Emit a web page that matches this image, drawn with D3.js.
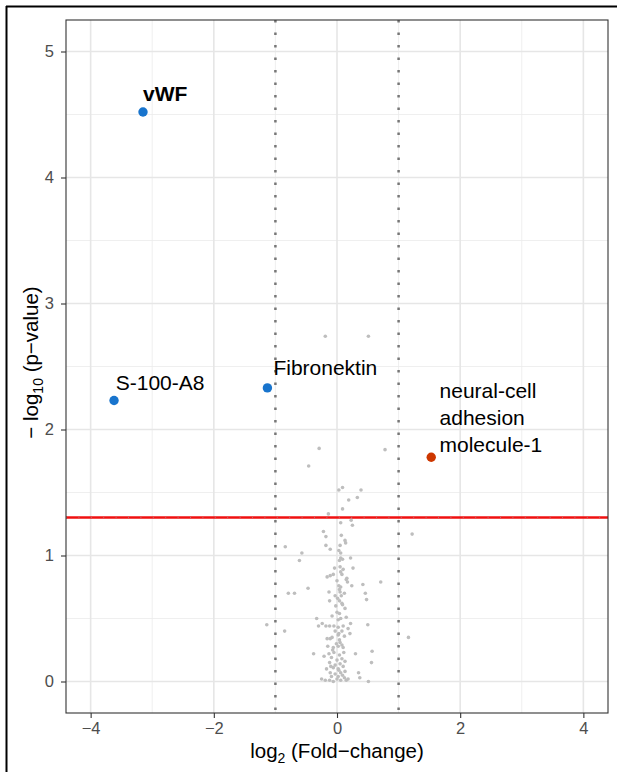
<!DOCTYPE html>
<html>
<head>
<meta charset="utf-8">
<script src="https://cdn.jsdelivr.net/npm/d3@7"></script>
<style>
  body { margin: 0; background: #fff; }
  svg { display: block; font-family: "Liberation Sans", Arial, sans-serif; }
</style>
</head>
<body>
<script>
// labelled proteins
const hitNames = [["vWF"], ["S-100-A8"], ["Fibronektin"], ["neural-cell", "adhesion", "molecule-1"]];
const hitX = [-3.15, -3.62, -1.13, 1.53];
const hitY = [4.52, 2.23, 2.33, 1.78];
const hitUp = [false, false, false, true];
const hitBold = [true, false, false, false];

// everything else (not significant)
const bgX = [-0.19, 0.51, -0.29, -0.46, 0.78, 0.03, 0.09, 0.39, 0.19, 0.33, 0.09, -0.14,
  0.06, 0.23, 0.25, -0.22, -0.18, 0.07, 0.13, 0.14, 1.22, -0.84, -0.18, -0.11, 0.03, -0.57,
  0.06, -0.61, 0.06, 0.09, 0.22, 0.04, 0.05, 0.10, 0.26, 0.06, 0.08, -0.16, -0.11, -0.06,
  0.16, 0.15, 0.17, 0.24, 0.42, 0.71, -0.47, -0.69, -0.79, 0.03, 0.06, 0.04, -0.13, 0.05,
  0.46, -0.03, 0.01, 0.07, 0.48, -0.12, 0.04, 0.09, 0.13, 0.04, -0.08, -0.33, 0.15, 0.02,
  0.06, 0.22, -0.24, -0.30, -0.18, -0.12, -0.05, 0.02, 0.10, 0.50, 0.18, -0.85, -0.03, 0.08,
  0.21, 0.03, -1.14, 0.02, 0.12, -0.11, -0.16, -0.08, 0.05, -0.01, 0.08, 1.16, -0.15, -0.06,
  0.02, 0.10, 0.57, -0.38, -0.21, -0.13, -0.05, 0.04, 0.11, 0.30, -0.09, 0.00, 0.08, 0.13,
  0.56, -0.12, -0.03, 0.05, -0.06, 0.02, 0.10, -0.17, 0.35, -0.11, -0.03, 0.06, 0.13, 0.37,
  -0.25, -0.19, -0.12, -0.06, 0.00, 0.06, 0.15, 0.18, 0.51, -0.09, 0.02, 0.09, 0.00, -0.02,
  0.08, 0.00, 0.12, -0.04, 0.05, -0.07, 0.04, -0.10, 0.12, 0.03];
const bgY = [2.74, 2.74, 1.85, 1.71, 1.84, 1.52, 1.54, 1.52, 1.44, 1.46, 1.37, 1.33,
  1.26, 1.28, 1.24, 1.19, 1.15, 1.16, 1.12, 1.10, 1.17, 1.07, 1.08, 1.05, 1.04, 1.02,
  1.02, 0.96, 0.98, 0.97, 0.98, 0.96, 0.91, 0.89, 0.90, 0.87, 0.85, 0.83, 0.84, 0.85,
  0.82, 0.81, 0.79, 0.76, 0.77, 0.79, 0.74, 0.70, 0.70, 0.76, 0.75, 0.73, 0.71, 0.71,
  0.70, 0.68, 0.66, 0.68, 0.65, 0.64, 0.64, 0.61, 0.58, 0.54, 0.52, 0.50, 0.51, 0.49,
  0.50, 0.46, 0.46, 0.44, 0.44, 0.44, 0.44, 0.43, 0.44, 0.45, 0.42, 0.40, 0.40, 0.40,
  0.38, 0.38, 0.45, 0.37, 0.36, 0.34, 0.34, 0.35, 0.31, 0.30, 0.29, 0.35, 0.28, 0.27,
  0.28, 0.27, 0.24, 0.22, 0.20, 0.22, 0.23, 0.21, 0.23, 0.22, 0.19, 0.17, 0.18, 0.16,
  0.15, 0.15, 0.13, 0.14, 0.11, 0.10, 0.12, 0.10, 0.07, 0.07, 0.06, 0.07, 0.08, 0.03,
  0.02, 0.01, 0.01, 0.00, 0.02, 0.01, 0.01, 0.02, 0.00, 0.04, 0.04, 0.05, 0.55, 0.60,
  0.62, 0.80, 0.70, 0.90, 1.08, 0.25, 0.33, 0.12, 0.03, 0.09];

const xTicks = [-4, -2, 0, 2, 4];
const yTicks = [0, 1, 2, 3, 4, 5];
const xMinor = [-3, -1, 1, 3];
const yMinor = [0.5, 1.5, 2.5, 3.5, 4.5];
const fcCut = [-1, 1];
const pCut = -Math.log10(0.05);

const W = 617, H = 772;
const svg = d3.select("body").append("svg").attr("width", W).attr("height", H);

// outer figure frame (top + left edges visible)
svg.append("line").attr("x1", 6).attr("x2", W).attr("y1", 6.5).attr("y2", 6.5)
  .attr("stroke", "#000").attr("stroke-width", 2);
svg.append("line").attr("x1", 6.5).attr("x2", 6.5).attr("y1", 6).attr("y2", H)
  .attr("stroke", "#000").attr("stroke-width", 2);

const pL = 66, pR = 608, pT = 20, pB = 713;
const x = d3.scaleLinear().domain([-4.4, 4.4]).range([pL, pR]);
const y = d3.scaleLinear().domain([-0.25, 5.25]).range([pB, pT]);
const fmt = d => (d < 0 ? "\u2212" + Math.abs(d) : "" + d);

const grid = svg.append("g");
grid.selectAll(".vmin").data(xMinor).join("line")
  .attr("x1", d => x(d)).attr("x2", d => x(d)).attr("y1", pT).attr("y2", pB)
  .attr("stroke", "#ebebeb").attr("stroke-width", 0.8);
grid.selectAll(".hmin").data(yMinor).join("line")
  .attr("y1", d => y(d)).attr("y2", d => y(d)).attr("x1", pL).attr("x2", pR)
  .attr("stroke", "#ebebeb").attr("stroke-width", 0.8);
grid.selectAll(".vmaj").data(xTicks).join("line")
  .attr("x1", d => x(d)).attr("x2", d => x(d)).attr("y1", pT).attr("y2", pB)
  .attr("stroke", "#e6e6e6").attr("stroke-width", 1.6);
grid.selectAll(".hmaj").data(yTicks).join("line")
  .attr("y1", d => y(d)).attr("y2", d => y(d)).attr("x1", pL).attr("x2", pR)
  .attr("stroke", "#e6e6e6").attr("stroke-width", 1.6);

// fold-change cut-offs
svg.selectAll(".fc").data(fcCut).join("line")
  .attr("x1", d => x(d)).attr("x2", d => x(d)).attr("y1", pT).attr("y2", pB)
  .attr("stroke", "#777").attr("stroke-width", 2.5)
  .attr("stroke-dasharray", "2.5,10");

// p-value cut-off
svg.append("line").attr("x1", pL).attr("x2", pR)
  .attr("y1", y(pCut)).attr("y2", y(pCut))
  .attr("stroke", "#f01010").attr("stroke-width", 2.6);
svg.append("line").attr("x1", pL).attr("x2", pR)
  .attr("y1", y(pCut)).attr("y2", y(pCut))
  .attr("stroke", "#b07070").attr("stroke-width", 1)
  .attr("stroke-dasharray", "1,11.4");

// grey points
svg.append("g").selectAll("circle").data(d3.range(bgX.length)).join("circle")
  .attr("cx", i => x(bgX[i])).attr("cy", i => y(bgY[i])).attr("r", 1.8)
  .attr("fill", "#bebebe");

// highlighted points
const hits = d3.range(hitX.length);
svg.append("g").selectAll("circle").data(hits).join("circle")
  .attr("cx", i => x(hitX[i])).attr("cy", i => y(hitY[i])).attr("r", 4.7)
  .attr("fill", i => hitUp[i] ? "#cd3700" : "#1874cd");

// labels: offsets in px from each point
const labOff = [[0, -10.6], [1.7, -11], [6, -13], [8.3, -59.7]];
const labs = svg.append("g").selectAll("text").data(hits).join("text")
  .attr("x", i => x(hitX[i]) + labOff[i][0])
  .attr("y", i => y(hitY[i]) + labOff[i][1])
  .attr("font-size", 21)
  .attr("font-weight", i => hitBold[i] ? "bold" : "normal")
  .attr("fill", "#000");
labs.each(function (i) {
  const t = d3.select(this);
  hitNames[i].forEach((s, k) => {
    t.append("tspan").attr("x", x(hitX[i]) + labOff[i][0]).attr("dy", k ? 27 : 0).text(s);
  });
});

// panel border
svg.append("rect").attr("x", pL).attr("y", pT)
  .attr("width", pR - pL).attr("height", pB - pT)
  .attr("fill", "none").attr("stroke", "#333").attr("stroke-width", 1.1);

// axes
const xAxis = svg.append("g").attr("transform", `translate(0,${pB})`)
  .call(d3.axisBottom(x).tickValues(xTicks).tickFormat(fmt).tickSize(5).tickPadding(4));
const yAxis = svg.append("g").attr("transform", `translate(${pL},0)`)
  .call(d3.axisLeft(y).tickValues(yTicks).tickFormat(fmt).tickSize(5).tickPadding(7));
[xAxis, yAxis].forEach(a => {
  a.select(".domain").remove();
  a.selectAll(".tick line").attr("stroke", "#333").attr("stroke-width", 1.1);
  a.selectAll(".tick text").attr("fill", "#4d4d4d").attr("font-size", 16.5)
    .attr("font-family", "Liberation Sans, Arial, sans-serif");
});

// axis titles
const xt = svg.append("text").attr("x", (pL + pR) / 2).attr("y", 758)
  .attr("text-anchor", "middle").attr("font-size", 20.5);
xt.append("tspan").text("log");
xt.append("tspan").attr("font-size", 14).attr("dy", 5).text("2");
xt.append("tspan").attr("dy", -5).text(" (Fold\u2212change)");

const yt = svg.append("text")
  .attr("transform", `translate(38,${(pT + pB) / 2 - 4}) rotate(-90)`)
  .attr("text-anchor", "middle").attr("font-size", 20.5);
yt.append("tspan").text("\u2212 log");
yt.append("tspan").attr("font-size", 14).attr("dy", 5).text("10");
yt.append("tspan").attr("dy", -5).text(" (p\u2212value)");
</script>
</body>
</html>
